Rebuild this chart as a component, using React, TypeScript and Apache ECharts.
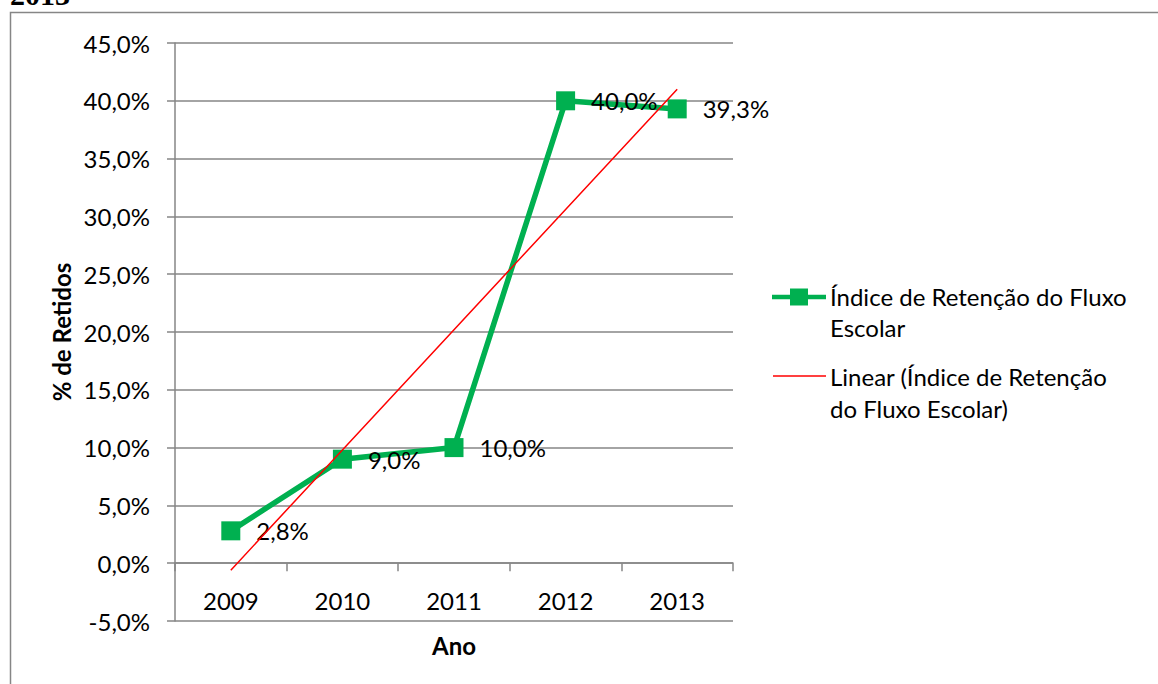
import React, { useEffect, useRef } from "react";
import * as echarts from "echarts";

const years = ["2009", "2010", "2011", "2012", "2013"];
const retention = [2.8, 9.0, 10.0, 40.0, 39.3];
const trend = [-0.6, 9.8, 20.2, 30.6, 41.0];
const seriesName = "Índice de Retenção do Fluxo Escolar";
const trendName = "Linear (Índice de Retenção do Fluxo Escolar)";

const FONT = "Lato, 'Noto Sans', sans-serif";
const GRAY = "#868686";
const GREEN = "#00B050";
const RED = "#FF0000";
const FS = 24;

const pct = (v: number) => v.toFixed(1).replace(".", ",") + "%";

export default function App() {
  const ref = useRef<HTMLDivElement>(null);
  useEffect(() => {
    if (!ref.current) return;
    const chart = echarts.init(ref.current, undefined, { renderer: "svg" });
    chart.setOption({
      animation: false,
      backgroundColor: "#fff",
      textStyle: { fontFamily: FONT },
      grid: {
        left: 175,
        top: 43,
        width: 558,
        height: 578,
        containLabel: false,
        outerBoundsMode: "none",
      },
      xAxis: {
        type: "category",
        data: years,
        boundaryGap: true,
        name: "Ano",
        nameLocation: "middle",
        nameGap: 12,
        nameTextStyle: { fontFamily: FONT, fontSize: FS, fontWeight: "bold", color: "#000" },
        axisLine: { show: true, onZero: true, lineStyle: { color: GRAY, width: 1.5 } },
        axisTick: { show: true, interval: 0, length: 8, inside: false, lineStyle: { color: GRAY, width: 1.5 } },
        axisLabel: { margin: -33, fontFamily: FONT, fontSize: FS, color: "#000", interval: 0 },
        splitLine: { show: false },
      },
      yAxis: {
        type: "value",
        min: -5,
        max: 45,
        interval: 5,
        name: "% de Retidos",
        nameLocation: "middle",
        nameGap: 102,
        nameRotate: 90,
        nameTextStyle: { fontFamily: FONT, fontSize: FS, fontWeight: "bold", color: "#000" },
        axisLine: { show: true, lineStyle: { color: GRAY, width: 1.5 } },
        axisTick: { show: true, length: 8, lineStyle: { color: GRAY, width: 1.5 } },
        axisLabel: { margin: 25, fontFamily: FONT, fontSize: FS, color: "#000", formatter: (v: number) => pct(v) },
        splitLine: { show: true, lineStyle: { color: GRAY, width: 1.5 } },
      },
      series: [
        {
          name: seriesName,
          type: "line",
          data: retention,
          symbol: "rect",
          symbolSize: 19,
          itemStyle: { color: GREEN },
          lineStyle: { color: GREEN, width: 5.5 },
          label: {
            show: true,
            position: "right",
            distance: 16,
            offset: [0, 0],
            fontFamily: FONT,
            fontSize: FS,
            color: "#000",
            formatter: (p: any) => pct(p.value),
          },
          z: 2,
        },
        {
          name: trendName,
          type: "line",
          data: trend,
          symbol: "none",
          lineStyle: { color: RED, width: 1.5 },
          z: 3,
        },
      ],
      graphic: [
        {
          type: "rect",
          shape: { x: 10.5, y: 12.5, width: 1300, height: 800 },
          style: { fill: "none", stroke: GRAY, lineWidth: 1.5 },
          silent: true,
        },
        {
          type: "text",
          x: 10,
          y: -6,
          style: {
            text: "2013",
            fontFamily: "'Liberation Serif', serif",
            fontWeight: "bold",
            fontSize: 30,
            fill: "#000",
            verticalAlign: "middle",
          },
        },
        {
          type: "line",
          shape: { x1: 772, y1: 297, x2: 826, y2: 297 },
          style: { stroke: GREEN, lineWidth: 4.5 },
        },
        {
          type: "rect",
          shape: { x: 790, y: 288.5, width: 18, height: 17 },
          style: { fill: GREEN },
        },
        {
          type: "text",
          x: 830,
          y: 281,
          style: {
            text: "Índice de Retenção do Fluxo\nEscolar",
            fontFamily: FONT,
            fontSize: FS,
            lineHeight: 31,
            fill: "#000",
            verticalAlign: "top",
          },
        },
        {
          type: "line",
          shape: { x1: 773, y1: 376, x2: 826, y2: 376 },
          style: { stroke: RED, lineWidth: 1.5 },
        },
        {
          type: "text",
          x: 830,
          y: 360,
          style: {
            text: "Linear (Índice de Retenção\ndo Fluxo Escolar)",
            fontFamily: FONT,
            fontSize: FS,
            lineHeight: 32,
            fill: "#000",
            verticalAlign: "top",
          },
        },
      ],
    });
    return () => chart.dispose();
  }, []);
  return (
    <div
      ref={ref}
      style={{ position: "absolute", left: 0, top: 0, width: 1158, height: 684 }}
    />
  );
}
